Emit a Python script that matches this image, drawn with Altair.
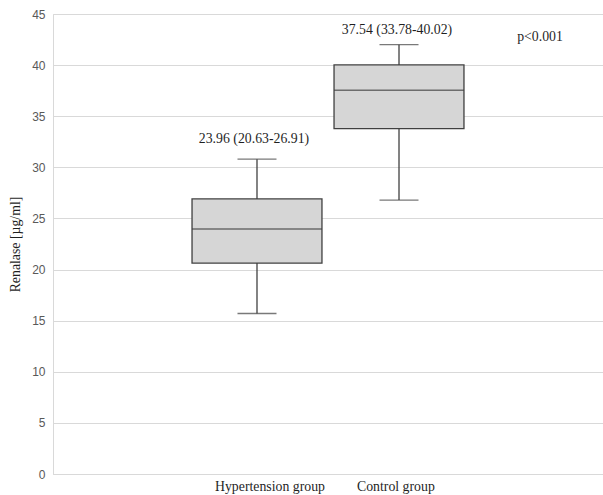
import altair as alt
import pandas as pd

# Renalase concentrations by study group (box-and-whisker summary)
groups = ["Hypertension group", "Control group"]
medians = [23.96, 37.54]
q1 = [20.63, 33.78]
q3 = [26.91, 40.02]
whisker_low = [15.7, 26.8]
whisker_high = [30.8, 42.0]
p_text = "p<0.001"

df = pd.DataFrame({
    "group": groups,
    "median": medians,
    "q1": q1,
    "q3": q3,
    "lo": whisker_low,
    "hi": whisker_high,
})
df["label"] = [f"{m:.2f} ({a:.2f}-{b:.2f})" for m, a, b in zip(medians, q1, q3)]

serif = "Liberation Serif"
sans = "Liberation Sans"
dark = "#404040"
text_col = "#1f1f1f"
fs = 13.8

x = alt.X(
    "group:N",
    sort=groups,
    title=None,
    scale=alt.Scale(paddingInner=0.085, paddingOuter=0.979),
    axis=alt.Axis(
        labelAngle=0,
        labelFont=serif,
        labelFontSize=fs,
        labelColor=text_col,
        labelAlign="left",
        labelOffset=-42,
        labelPadding=5,
        ticks=False,
        domain=True,
        domainColor="#d9d9d9",
        grid=False,
    ),
)
y_scale = alt.Scale(domain=[0, 45], nice=False, zero=True)
y_axis = alt.Axis(
    values=list(range(0, 50, 5)),
    labelFont=sans,
    labelFontSize=12,
    labelColor="#595959",
    labelPadding=8,
    ticks=False,
    domain=True,
    domainColor="#d9d9d9",
    gridColor="#d9d9d9",
    gridWidth=1,
    title="Renalase [µg/ml]",
    titleFont=serif,
    titleFontSize=fs,
    titleFontWeight="normal",
    titleColor=text_col,
    titlePadding=9,
)

base = alt.Chart(df)

whiskers = base.mark_rule(color=dark, strokeWidth=1.3).encode(
    x=x, y=alt.Y("lo:Q", scale=y_scale, axis=y_axis), y2="hi:Q"
)
caps_low = base.mark_tick(color=dark, size=39, thickness=1.3).encode(
    x=x, y=alt.Y("lo:Q", scale=y_scale)
)
caps_high = base.mark_tick(color=dark, size=39, thickness=1.3).encode(
    x=x, y=alt.Y("hi:Q", scale=y_scale)
)
boxes = base.mark_bar(fill="#d6d6d6", stroke=dark, strokeWidth=1.3).encode(
    x=x, y=alt.Y("q1:Q", scale=y_scale), y2="q3:Q"
)
median_line = base.mark_tick(color=dark, size=130, thickness=1.5).encode(
    x=x, y=alt.Y("median:Q", scale=y_scale)
)

label_hyp = base.transform_filter(alt.datum.group == groups[0]).mark_text(
    font=serif, fontSize=fs, color=text_col, dy=-20, dx=-3
).encode(x=x, y=alt.Y("hi:Q", scale=y_scale), text="label:N")
label_ctl = base.transform_filter(alt.datum.group == groups[1]).mark_text(
    font=serif, fontSize=fs, color=text_col, dy=-15, dx=-2
).encode(x=x, y=alt.Y("hi:Q", scale=y_scale), text="label:N")

p_label = alt.Chart(pd.DataFrame({"t": [p_text]})).mark_text(
    font=serif, fontSize=fs, color=text_col
).encode(x=alt.value(487), y=alt.value(23), text="t:N")

chart = (
    alt.layer(whiskers, caps_low, caps_high, boxes, median_line, label_hyp, label_ctl, p_label)
    .properties(
        width=550,
        height=460,
        autosize=alt.AutoSizeParams(type="none"),
        padding={"left": 53, "top": 14, "right": 0, "bottom": 21},
    )
    .configure_view(stroke=None)
    .configure(background="white")
)

chart.save("out.html", embed_options={"renderer": "svg", "actions": False})
